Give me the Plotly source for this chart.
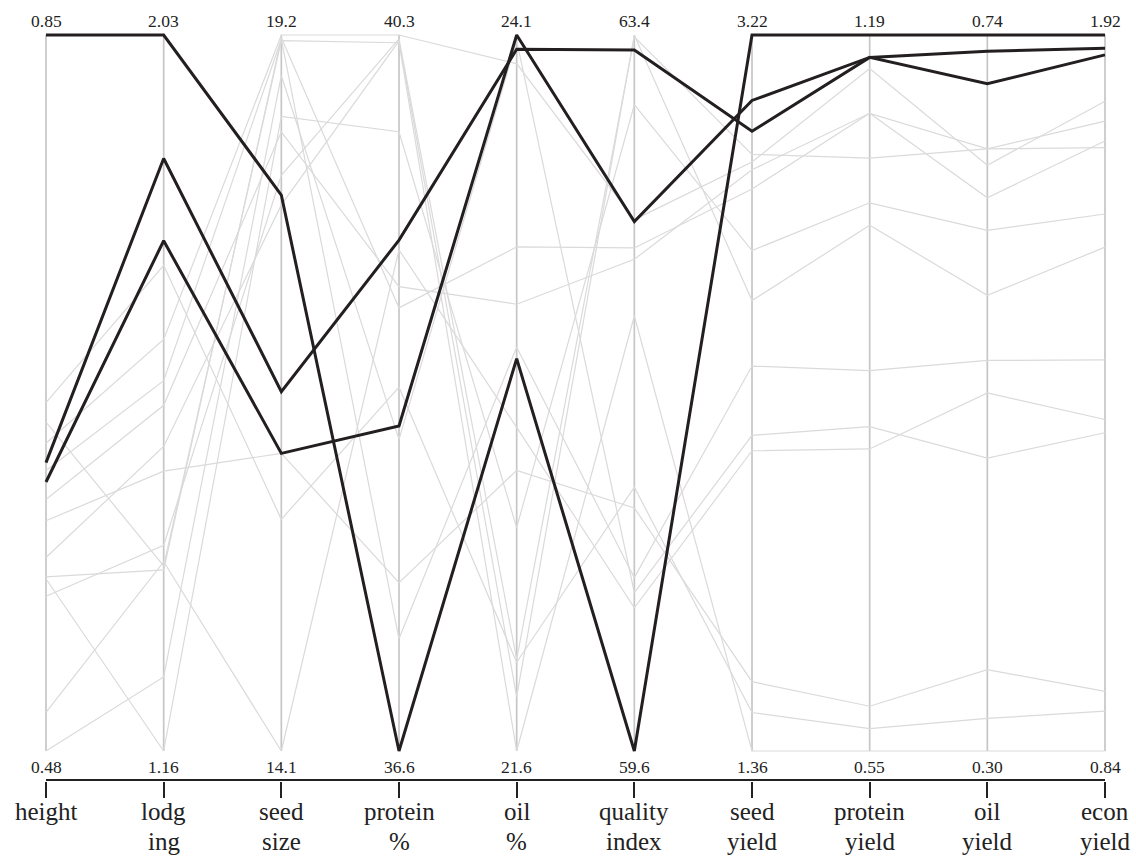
import plotly.graph_objects as go

# ---- data ----
label_line1 = ["height", "lodg", "seed", "protein", "oil", "quality", "seed", "protein", "oil", "econ"]
label_line2 = ["", "ing", "size", "%", "%", "index", "yield", "yield", "yield", "yield"]
top_labels = ["0.85", "2.03", "19.2", "40.3", "24.1", "63.4", "3.22", "1.19", "0.74", "1.92"]
bottom_labels = ["0.48", "1.16", "14.1", "36.6", "21.6", "59.6", "1.36", "0.55", "0.30", "0.84"]

height = [0.85, 0.629, 0.619, 0.560, 0.639, 0.610, 0.570, 0.569, 0.580, 0.625, 0.48, 0.500, 0.599, 0.660, 0.650]
lodging = [2.03, 1.88, 1.78, 1.41, 1.66, 1.58, 1.38, 1.16, 1.53, 1.61, 1.25, 1.39, 1.50, 1.75, 1.385]
seed_size = [18.06, 16.66, 16.22, 18.20, 19.20, 18.51, 19.18, 18.62, 17.99, 19.17, 18.91, 14.10, 16.22, 15.75, 19.16]
protein = [36.6, 39.24, 38.28, 40.28, 40.30, 39.00, 38.89, 39.80, 40.27, 37.18, 38.21, 39.19, 37.47, 38.48, 40.26]
oil = [22.97, 24.05, 24.10, 21.92, 24.00, 23.16, 23.36, 22.38, 21.79, 23.01, 24.08, 22.73, 22.58, 21.91, 21.60]
quality = [59.6, 63.32, 62.41, 63.39, 62.42, 62.21, 62.27, 63.03, 63.40, 60.52, 60.44, 60.36, 60.89, 61.00, 61.91]
seed_yield = [3.22, 2.97, 3.05, 2.91, 2.89, 2.87, 2.82, 2.66, 2.53, 2.36, 2.18, 2.14, 1.54, 1.46, 1.36]
protein_yield = [1.19, 1.17, 1.17, 1.08, 1.16, 1.12, 1.12, 1.04, 1.02, 0.89, 0.84, 0.82, 0.59, 0.57, 0.55]
oil_yield = [0.74, 0.71, 0.73, 0.67, 0.66, 0.67, 0.64, 0.62, 0.58, 0.54, 0.48, 0.52, 0.35, 0.32, 0.30]
econ_yield = [1.92, 1.89, 1.90, 1.75, 1.82, 1.79, 1.76, 1.65, 1.60, 1.43, 1.32, 1.34, 0.93, 0.90, 0.84]
highlight = [True, True, True] + [False] * 12

columns = [height, lodging, seed_size, protein, oil, quality,
           seed_yield, protein_yield, oil_yield, econ_yield]

# ---- styling ----
FONT = "Liberation Serif"
GRAY = "#dadada"
DARK = "#231f20"
AXIS = "#c6c6c6"
TEXT = "#222222"

n_axes = len(columns)
n_rows = len(height)
mins = [float(v) for v in bottom_labels]
maxs = [float(v) for v in top_labels]


def norm(j, v):
    return (v - mins[j]) / (maxs[j] - mins[j])


fig = go.Figure()
order = [r for r in range(n_rows) if not highlight[r]] + [r for r in range(n_rows) if highlight[r]]
for r in order:
    ys = [norm(j, columns[j][r]) for j in range(n_axes)]
    dark = highlight[r]
    fig.add_trace(go.Scatter(
        x=list(range(n_axes)), y=ys, mode="lines",
        line=dict(color=DARK if dark else GRAY, width=3 if dark else 1.2),
        hoverinfo="skip", showlegend=False))

# plot area geometry (pixels): top 30, bottom 781
PLOT_TOP, PLOT_BOTTOM = 30, 781
PLOT_H = PLOT_BOTTOM - PLOT_TOP


def paper_y(px):
    return (PLOT_BOTTOM - px) / PLOT_H


shapes = []
annotations = []
for j in range(n_axes):
    shapes.append(dict(type="line", xref="x", yref="y", x0=j, x1=j, y0=0, y1=1,
                       line=dict(color=AXIS, width=1.7), layer="below"))
    annotations.append(dict(x=j, y=1, xref="x", yref="y", text=top_labels[j],
                            showarrow=False, yanchor="bottom", yshift=2,
                            font=dict(family=FONT, size=17.5, color=TEXT)))
    annotations.append(dict(x=j, y=0, xref="x", yref="y", text=bottom_labels[j],
                            showarrow=False, yanchor="top", yshift=-4,
                            font=dict(family=FONT, size=17.5, color=TEXT)))
    annotations.append(dict(x=j, y=paper_y(811), xref="x", yref="paper", text=label_line1[j],
                            showarrow=False, yanchor="middle", xanchor="center", borderpad=0,
                            font=dict(family=FONT, size=25, color=TEXT)))
    if label_line2[j]:
        annotations.append(dict(x=j, y=paper_y(841), xref="x", yref="paper", text=label_line2[j],
                                showarrow=False, yanchor="middle", xanchor="center", borderpad=0,
                                font=dict(family=FONT, size=25, color=TEXT)))

# bottom axis line
shapes.append(dict(type="line", xref="x", yref="y", x0=0, x1=n_axes - 1,
                   y0=-29 / 716, y1=-29 / 716, line=dict(color=TEXT, width=2)))

pad = 6 / (1059 / 9)
fig.update_layout(
    template="none",
    width=1136, height=859,
    margin=dict(l=40, r=25, t=PLOT_TOP, b=859 - PLOT_BOTTOM, autoexpand=False),
    paper_bgcolor="white", plot_bgcolor="white",
    shapes=shapes, annotations=annotations,
    xaxis=dict(range=[-pad, n_axes - 1 + pad], tickvals=list(range(n_axes)),
               showticklabels=False,
               ticks="outside", ticklen=16, tickwidth=2, tickcolor=TEXT, automargin=False,
               showline=False, showgrid=False, zeroline=False, fixedrange=True),
    yaxis=dict(range=[-30 / 716, 1 + 5 / 716], visible=False, fixedrange=True, automargin=False),
)

fig.write_html("out.html", config={"displayModeBar": False},
               post_script="document.body.style.margin='0';")
